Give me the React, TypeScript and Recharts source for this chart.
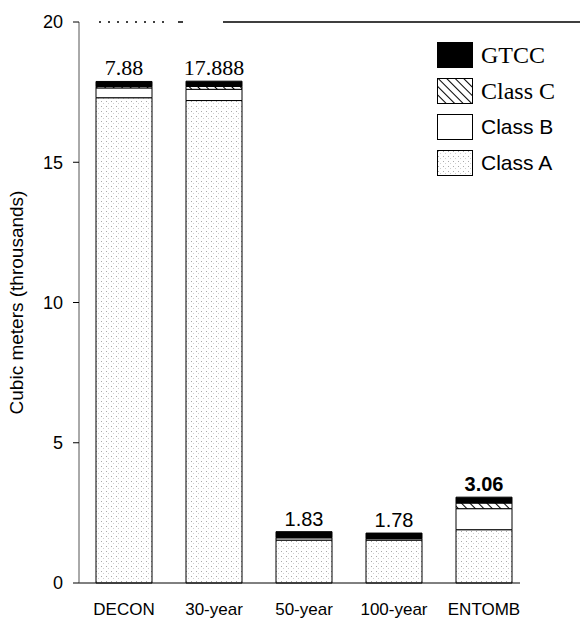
import { BarChart, Bar, XAxis, YAxis, Legend, LabelList } from "recharts";

const categories = ["DECON", "30-year", "50-year", "100-year", "ENTOMB"];
const classA = [17.3, 17.2, 1.53, 1.53, 1.9];
const classB = [0.35, 0.4, 0.08, 0.05, 0.75];
const classC = [0.05, 0.1, 0.02, 0.0, 0.2];
const gtcc = [0.18, 0.19, 0.2, 0.2, 0.21];
const totalLabels = ["7.88", "17.888", "1.83", "1.78", "3.06"];
const yTicks = [0, 5, 10, 15, 20];

const data = categories.map((name, i) => ({
  name,
  classA: classA[i],
  classB: classB[i],
  classC: classC[i],
  gtcc: gtcc[i],
  label: totalLabels[i],
}));

const SERIF = "'Liberation Serif', 'Times New Roman', serif";
const SANS = "'Liberation Sans', Arial, Helvetica, sans-serif";

const legendItems = [
  { name: "GTCC", fill: "#000", font: SERIF, size: 24 },
  { name: "Class C", fill: "url(#hatchC)", font: SERIF, size: 24 },
  { name: "Class B", fill: "#fff", font: SANS, size: 21 },
  { name: "Class A", fill: "url(#stippleA)", font: SANS, size: 21 },
];

// top-of-bar totals; first two were typeset in a serif face in the original
const TotalLabel = (props: any) => {
  const { x, y, width, value } = props;
  const idx = totalLabels.indexOf(value);
  const serif = idx < 2;
  return (
    <text
      x={x + width / 2}
      y={y - 6}
      textAnchor="middle"
      fontFamily={serif ? SERIF : SANS}
      fontSize={serif ? 22 : 20}
      fontWeight={idx === 4 ? "bold" : "normal"}
      fill="#000"
    >
      {value}
    </text>
  );
};

const LegendBox = () => (
  <div style={{ display: "flex", flexDirection: "column", gap: 10 }}>
    {legendItems.map((item) => (
      <div key={item.name} style={{ display: "flex", alignItems: "center", height: 26 }}>
        <svg width={36} height={26} style={{ marginRight: 8 }}>
          <rect x={0.5} y={0.5} width={35} height={25} fill={item.fill} stroke="#000" strokeWidth={1} />
        </svg>
        <span style={{ fontFamily: item.font, fontSize: item.size, color: "#000", lineHeight: "26px" }}>
          {item.name}
        </span>
      </div>
    ))}
  </div>
);

export default function App() {
  return (
    <div style={{ position: "absolute", left: 0, top: 0, width: 582, height: 620, background: "#fff" }}>
      <BarChart
        width={582}
        height={620}
        data={data}
        margin={{ top: 20, right: 2, bottom: 0, left: 0 }}
      >
        <defs>
          <pattern id="stippleA" width="5" height="5" patternUnits="userSpaceOnUse">
            <rect width="5" height="5" fill="#fff" />
            <rect x="1" y="1" width="1" height="1" fill="#aaa" />
            <rect x="3" y="3" width="1" height="1" fill="#d0d0d0" />
          </pattern>
          <pattern id="hatchC" width="6" height="6" patternUnits="userSpaceOnUse" patternTransform="rotate(-45)">
            <rect width="6" height="6" fill="#fff" />
            <line x1="0" y1="0" x2="0" y2="6" stroke="#000" strokeWidth="2" />
          </pattern>
        </defs>
        <XAxis
          dataKey="name"
          height={37}
          padding={{ left: 0, right: 51 }}
          tickLine={false}
          tickMargin={14}
          axisLine={{ stroke: "#000", strokeDasharray: "441 200" }}
          tick={{ fontSize: 17, fill: "#000", fontFamily: SANS }}
        />
        <XAxis
          xAxisId="top"
          dataKey="name"
          orientation="top"
          height={2}
          tick={false}
          tickLine={false}
          axisLine={{ stroke: "#000", strokeWidth: 1.5, strokeDasharray: "0 20 2 7 2 7 2 7 2 7 2 7 2 7 2 7 2 14 5 40 600" }}
        />
        <YAxis
          width={79}
          domain={[0, 20]}
          ticks={yTicks}
          tickSize={6}
          tickMargin={10}
          axisLine={{ stroke: "#555" }}
          tickLine={{ stroke: "#000" }}
          tick={{ fontSize: 18, fill: "#000", fontFamily: SANS }}
          label={{
            value: "Cubic meters (throusands)",
            angle: -90,
            position: "insideLeft",
            offset: 16,
            style: { textAnchor: "middle", fontSize: 19, fill: "#000", fontFamily: SANS },
          }}
        />
        <Legend
          verticalAlign="middle"
          layout="horizontal"
          content={() => <LegendBox />}
          wrapperStyle={{ position: "absolute", top: 42, left: 437, width: 145 }}
        />
        <Bar dataKey="classA" name="Class A" stackId="a" barSize={56} fill="url(#stippleA)" stroke="#000" strokeWidth={1} isAnimationActive={false} />
        <Bar dataKey="classB" name="Class B" stackId="a" barSize={56} fill="#fff" stroke="#000" strokeWidth={1} isAnimationActive={false} />
        <Bar dataKey="classC" name="Class C" stackId="a" barSize={56} fill="url(#hatchC)" stroke="#000" strokeWidth={1} isAnimationActive={false} />
        <Bar dataKey="gtcc" name="GTCC" stackId="a" barSize={56} fill="#000" stroke="#000" strokeWidth={1} isAnimationActive={false}>
          <LabelList dataKey="label" content={TotalLabel} />
        </Bar>
      </BarChart>
    </div>
  );
}
